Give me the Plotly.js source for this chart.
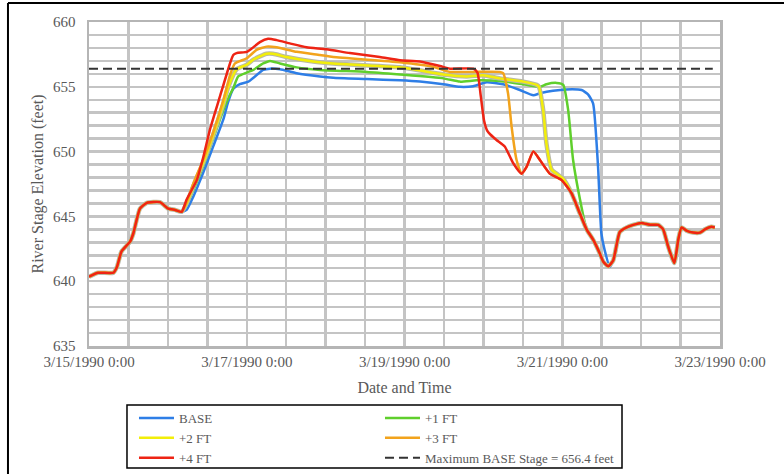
<!DOCTYPE html>
<html>
<head>
<meta charset="utf-8">
<script src="https://cdn.plot.ly/plotly-3.0.1.min.js"></script>
<style>html,body{margin:0;padding:0;background:#fff;}#chart{width:784px;height:474px;}</style>
</head>
<body>
<div id="chart"></div>
<script>
// Time values are hours after 3/15/1990 0:00
const headHours = [0, 2.8, 7.4, 8.5, 9.9, 12.5, 13.5, 15.5, 17.6, 21.6, 24.1, 26.2, 28.2];
const headStage = [640.35, 640.65, 640.65, 641.1, 642.3, 643.05, 643.7, 645.6, 646.05, 646.1, 645.6, 645.5, 645.35];

const tailHours = [161.5, 163.6, 165.6, 168.1, 170.7, 173.2, 174.7, 176.2, 178.1, 179.3, 180.3, 181.8, 183.8, 185.9, 187.4, 189.4, 190.4];
const tailStage = [643.8, 644.15, 644.35, 644.5, 644.35, 644.35, 644.0, 642.7, 641.4, 643.2, 644.15, 643.9, 643.75, 643.75, 644.0, 644.2, 644.15];

const baseHours = [29.7, 31.7, 34.8, 37.8, 40.9, 42.3, 43.9, 45.9, 48.5, 50.5, 53, 55.1, 58.1, 63.2, 70.3, 74.3, 84.5, 94.6, 100.7, 107.8, 112.9, 116.9, 121, 126, 131.1, 135.2, 137.2, 141.2, 145.3, 149.9, 151.9, 153.4, 154.9, 155.9, 156.9, 158.5, 160];
const baseStage = [645.5, 646.5, 648.4, 650.4, 652.5, 653.8, 654.85, 655.2, 655.4, 655.8, 656.3, 656.4, 656.35, 656.05, 655.8, 655.7, 655.6, 655.5, 655.4, 655.2, 655.0, 655.05, 655.35, 655.2, 654.75, 654.35, 654.5, 654.7, 654.8, 654.75, 654.4, 653.7, 648.8, 643.7, 642.4, 641.1, 641.9];

const plus1Hours = [29.7, 31.7, 34.8, 37.8, 40.9, 42.9, 43.9, 45.4, 48, 50, 53, 55.1, 58.1, 63.2, 70.3, 84.5, 94.6, 107.8, 112.9, 117.9, 125, 133.1, 137.2, 139.2, 142.3, 144.3, 145.8, 147.3, 149.4, 151.4, 153.4, 155.4, 156.5, 158, 159.5];
const plus1Stage = [645.9, 647.0, 648.9, 651.0, 653.2, 654.4, 654.9, 655.8, 656.1, 656.3, 656.8, 657.0, 656.8, 656.5, 656.3, 656.15, 655.95, 655.65, 655.4, 655.5, 655.45, 655.15, 655.0, 655.2, 655.3, 655.15, 653.2, 649.35, 646.3, 644.0, 643.2, 642.15, 641.5, 641.15, 641.6];

const plus2Hours = [29.7, 31.7, 34.8, 37.8, 40.9, 42.4, 44.9, 48, 50, 54, 56, 60.1, 68.2, 74.3, 94.6, 107.8, 114.9, 119.9, 125, 132.1, 136.2, 136.9, 138.2, 139.2, 140.8, 142.8, 144.3, 146.8, 149.4, 151.4, 153.4, 155.4, 156.5, 158, 159.5];
const plus2Stage = [646.0, 647.3, 649.2, 651.3, 653.7, 655.0, 656.35, 656.7, 657.1, 657.55, 657.55, 657.3, 656.95, 656.8, 656.5, 655.95, 655.8, 655.9, 655.65, 655.4, 655.15, 655.0, 653.2, 650.6, 648.6, 648.2, 647.9, 646.8, 645.2, 644.0, 643.2, 642.15, 641.5, 641.15, 641.6];

const plus3Hours = [29.7, 31.7, 34.8, 37.8, 40.9, 42.9, 44.4, 48, 51, 54, 57.1, 63.2, 70.3, 74.3, 94.6, 104.7, 109.8, 116.9, 125, 126, 127.5, 128.6, 130.1, 131.6, 133.1, 135.2, 137.2, 140.2, 143.8, 146.8, 149.4, 151.4, 153.4, 155.4, 156.5, 158, 159.5];
const plus3Stage = [646.1, 647.5, 649.4, 651.5, 654.0, 655.9, 656.8, 657.2, 657.85, 658.1, 658.05, 657.7, 657.45, 657.3, 656.9, 656.55, 656.15, 656.15, 656.15, 656.05, 654.5, 651.9, 649.35, 648.3, 648.8, 650.0, 649.35, 648.3, 647.8, 646.8, 645.2, 644.0, 643.2, 642.15, 641.5, 641.15, 641.6];

const plus4Hours = [29.7, 32.8, 34.8, 36.8, 39.9, 42.9, 43.9, 44.9, 48, 49.5, 52, 54.5, 57.1, 61.1, 66.2, 72.3, 79.4, 88.5, 94.6, 100.7, 106.8, 109.8, 116.9, 118.2, 119.2, 120.2, 121.2, 122.2, 124, 126.5, 128.1, 129.1, 131.6, 133.1, 135.2, 137.2, 140.2, 143.8, 146.8, 149.4, 151.4, 153.4, 155.4, 156.5, 158, 159.5];
const plus4Stage = [646.3, 647.8, 649.6, 651.7, 654.3, 656.8, 657.45, 657.6, 657.7, 657.95, 658.45, 658.7, 658.6, 658.35, 658.05, 657.9, 657.6, 657.3, 657.05, 656.95, 656.6, 656.4, 656.4, 656.1, 654.3, 652.4, 651.6, 651.3, 650.9, 650.4, 649.6, 649.1, 648.3, 648.8, 650.0, 649.35, 648.3, 647.8, 646.8, 645.2, 644.0, 643.2, 642.15, 641.5, 641.15, 641.6];

const maxBaseStage = 656.4;
const maxLineHours = [0, 189.8];

const seriesNames = ['BASE', '+1 FT', '+2 FT', '+3 FT', '+4 FT'];
const seriesColors = ['#2E7EE6', '#5FCF2C', '#F2EE0A', '#F2A31C', '#EE2414'];
const maxLabel = 'Maximum BASE Stage = 656.4 feet';
const xTickDates = ['1990-03-15', '1990-03-23'];

const start = Date.UTC(1990, 2, 15, 0, 0, 0);
function toDate(h) {
  const d = new Date(start + Math.round(h * 3600000));
  return d.toISOString().slice(0, 19).replace('T', ' ');
}
function full(mid, tail, head) { return head.concat(mid, tail); }

const seriesHours = [baseHours, plus1Hours, plus2Hours, plus3Hours, plus4Hours];
const seriesStage = [baseStage, plus1Stage, plus2Stage, plus3Stage, plus4Stage];

const FONT = 'Liberation Serif, Times New Roman, serif';
const GRAY = '#595959';
const GRID = '#c4c4c4';

const traces = [];
seriesNames.forEach((name, i) => {
  const xs = full(seriesHours[i], tailHours, headHours).map(toDate);
  const ys = full(seriesStage[i], tailStage, headStage);
  if (i === 2) {
    traces.push({x: xs, y: ys, mode: 'lines', showlegend: false, hoverinfo: 'skip',
      line: {color: '#b8b8a8', width: 4.5, shape: 'spline', smoothing: 0.5}});
  }
  traces.push({x: xs, y: ys, mode: 'lines', name: name,
    line: {color: seriesColors[i], width: 2.5, shape: 'spline', smoothing: 0.5}});
});
traces.push({x: maxLineHours.map(toDate), y: maxLineHours.map(() => maxBaseStage),
  mode: 'lines', name: maxLabel, line: {color: '#333333', width: 2, dash: '9px,5px'}});

const layout = {
  width: 784, height: 474,
  margin: {l: 89, r: 64, t: 22, b: 128, autoexpand: false},
  paper_bgcolor: '#ffffff', plot_bgcolor: '#ffffff',
  font: {family: FONT, color: GRAY, size: 15},
  showlegend: true,
  xaxis: {
    type: 'date',
    range: [xTickDates[0], xTickDates[1]],
    tick0: xTickDates[0], dtick: 2 * 86400000,
    tickformat: '%-m/%-d/%Y %-H:%M',
    tickfont: {family: FONT, size: 15, color: GRAY},
    showgrid: true, gridcolor: GRID, gridwidth: 2.5,
    minor: {dtick: 43200000, showgrid: true, gridcolor: GRID, gridwidth: 2.5, ticks: ''},
    showline: true, linecolor: '#b5b5b5', linewidth: 2.5, mirror: true,
    ticks: '', zeroline: false, automargin: false,
    title: {text: 'Date and Time', font: {family: FONT, size: 16, color: GRAY}, standoff: 14}
  },
  yaxis: {
    range: [635, 660], dtick: 5, tick0: 635,
    tickfont: {family: FONT, size: 15, color: GRAY},
    showgrid: true, gridcolor: GRID, gridwidth: 2.5,
    minor: {dtick: 1, showgrid: true, gridcolor: GRID, gridwidth: 2.5, ticks: ''},
    showline: true, linecolor: '#b5b5b5', linewidth: 2.5, mirror: true,
    ticks: '', zeroline: false, ticklabelstandoff: 8, automargin: false,
    title: {text: 'River Stage Elevation (feet)', font: {family: FONT, size: 16, color: GRAY}, standoff: 6}
  },
  legend: {
    orientation: 'h', x: 0.0713, xanchor: 'left', y: -0.176, yanchor: 'top',
    bgcolor: 'rgba(0,0,0,0)', borderwidth: 0,
    font: {family: FONT, size: 13, color: GRAY},
    entrywidth: 196, entrywidthmode: 'pixels', itemwidth: 35
  },
  shapes: [
    {type: 'line', xref: 'paper', yref: 'paper', x0: -0.1284, x1: -0.1284, y0: 1.0586, y1: -0.4, line: {color: '#000', width: 2}},
    {type: 'line', xref: 'paper', yref: 'paper', x0: -0.1284, x1: 1.11, y0: 1.0586, y1: 1.0586, line: {color: '#000', width: 2}},
    {type: 'rect', xref: 'paper', yref: 'paper', x0: 0.0602, x1: 0.8447, y0: -0.1821, y1: -0.3765, line: {color: '#000', width: 1.5}, fillcolor: 'rgba(0,0,0,0)'}
  ]
};

Plotly.newPlot('chart', traces, layout, {displayModeBar: false, staticPlot: true});
</script>
</body>
</html>
